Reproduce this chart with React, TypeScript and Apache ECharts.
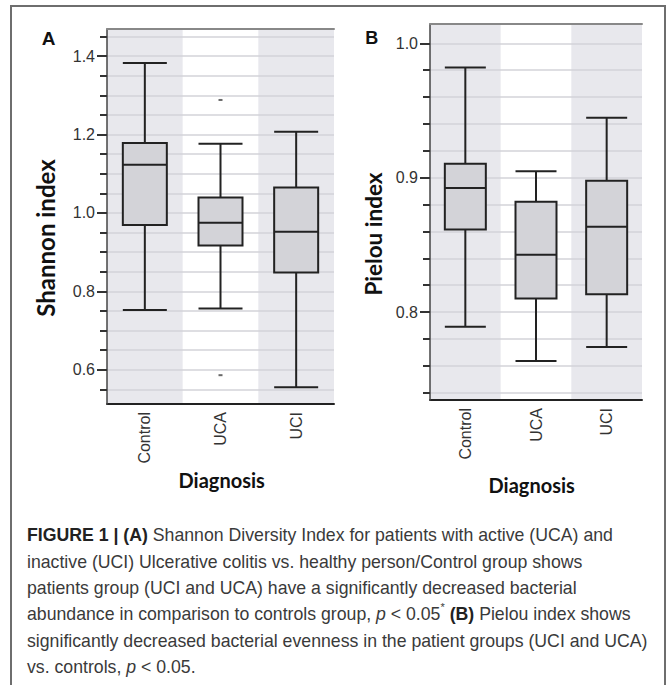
import React, { useEffect, useRef } from 'react';
import * as echarts from 'echarts';

// ---- data ----
const categories = ['Control', 'UCA', 'UCI'];
// [min, Q1, median, Q3, max]
const shannonBox = [
  [0.752, 0.969, 1.123, 1.178, 1.382],
  [0.756, 0.917, 0.975, 1.039, 1.176],
  [0.555, 0.848, 0.952, 1.065, 1.207],
];
const shannonOutliers = [
  ['UCA', 1.288],
  ['UCA', 0.586],
];
const pielouBox = [
  [0.789, 0.8615, 0.8923, 0.9104, 0.982],
  [0.7635, 0.81, 0.8427, 0.8821, 0.9047],
  [0.774, 0.8133, 0.8635, 0.8978, 0.9446],
];
const shannonRange = [0.5125, 1.469];
const pielouRange = [0.7345, 1.0144];
const shannonMinorTicks = [0.55, 0.6, 0.65, 0.7, 0.75, 0.8, 0.85, 0.9, 0.95, 1.0, 1.05, 1.1, 1.15, 1.2, 1.25, 1.3, 1.35, 1.4, 1.45];
const shannonMajorTicks = [0.6, 0.8, 1.0, 1.2, 1.4];
const pielouMinorTicks = [0.74, 0.76, 0.78, 0.8, 0.82, 0.84, 0.86, 0.88, 0.9, 0.92, 0.94, 0.96, 0.98, 1.0];
const pielouMajorTicks = [0.8, 0.9, 1.0];

const panelLetters = ['A', 'B'];
const yNames = ['Shannon index', 'Pielou index'];
const xName = 'Diagnosis';
const captionLines = [
  '{b|FIGURE 1 | (A)} Shannon Diversity Index for patients with active (UCA) and',
  'inactive (UCI) Ulcerative colitis vs. healthy person/Control group shows',
  'patients group (UCI and UCA) have a significantly decreased bacterial',
  'abundance in comparison to controls group, {i|p} < 0.05{sup|*} {b|(B)} Pielou index shows',
  'significantly decreased bacterial evenness in the patient groups (UCI and UCA)',
  'vs. controls, {i|p} < 0.05.',
];

const SANS = '"Liberation Sans", Arial, sans-serif';
const LABEL_FONT = 'Lato, "Open Sans", sans-serif';
const BAND = '#e8e8ed';
const GRIDLINE = '#d3d3d8';
const BOX_FILL = '#d3d3d8';
const DARK = '#222';
const CAPTION_SIZE = 17.7;

function yMinor(gridIndex: number, range: number[], ticks: number[]) {
  return {
    type: 'value',
    gridIndex,
    position: 'left',
    z: 1,
    min: range[0],
    max: range[1],
    axisLine: { show: true, onZero: false, lineStyle: { color: '#444', width: 1.5 } },
    axisTick: { show: true, customValues: ticks, length: 7, lineStyle: { color: '#333', width: 2 } },
    axisLabel: { show: false },
    splitLine: { show: true, lineStyle: { color: GRIDLINE, width: 1.5 } },
  };
}
function yMajor(gridIndex: number, range: number[], ticks: number[]) {
  return {
    type: 'value',
    gridIndex,
    position: 'left',
    z: 1,
    min: range[0],
    max: range[1],
    axisLine: { show: false, onZero: false },
    axisTick: { show: true, customValues: ticks, length: 10, lineStyle: { color: '#333', width: 2 } },
    axisLabel: {
      show: true,
      customValues: ticks,
      margin: 12,
      color: '#333',
      fontSize: 16,
      fontFamily: SANS,
      formatter: (v: number) => v.toFixed(1),
    },
    splitLine: { show: false },
  };
}
function xBottom(gridIndex: number) {
  return {
    type: 'category',
    gridIndex,
    data: categories,
    position: 'bottom',
    z: 0,
    boundaryGap: true,
    axisLine: { show: true, onZero: false, lineStyle: { color: DARK, width: 2 } },
    axisTick: { show: false },
    axisLabel: { rotate: 90, margin: 8, color: '#333', fontSize: 16, fontFamily: SANS },
    splitLine: { show: false },
    splitArea: { show: true, areaStyle: { color: [BAND, 'rgba(255,255,255,0)'] } },
  };
}
function xTop(gridIndex: number) {
  return {
    type: 'category',
    gridIndex,
    data: categories,
    position: 'top',
    z: 1,
    boundaryGap: true,
    axisLine: { show: true, onZero: false, lineStyle: { color: '#888', width: 2 } },
    axisTick: { show: false },
    axisLabel: { show: false },
    splitLine: { show: false },
    splitArea: { show: false },
  };
}

const boxStyle = { color: BOX_FILL, borderColor: DARK, borderWidth: 2 };

export default function App() {
  const ref = useRef<HTMLDivElement>(null);
  useEffect(() => {
    document.body.style.margin = '0';
    if (!ref.current) return;
    const chart = echarts.init(ref.current, null, { renderer: 'svg' });
    chart.setOption({
      animation: false,
      backgroundColor: '#ffffff',
      grid: [
        { left: 107, top: 29, width: 227, height: 375 },
        { left: 430, top: 24, width: 212, height: 376 },
      ],
      xAxis: [xBottom(0), xTop(0), xBottom(1), xTop(1)],
      yAxis: [
        yMinor(0, shannonRange, shannonMinorTicks),
        yMajor(0, shannonRange, shannonMajorTicks),
        yMinor(1, pielouRange, pielouMinorTicks),
        yMajor(1, pielouRange, pielouMajorTicks),
      ],
      series: [
        {
          type: 'boxplot',
          name: 'Shannon index',
          xAxisIndex: 0,
          yAxisIndex: 0,
          z: 3,
          data: shannonBox,
          boxWidth: [44, 44],
          itemStyle: boxStyle,
          silent: true,
        },
        {
          type: 'scatter',
          name: 'Shannon outliers',
          xAxisIndex: 0,
          yAxisIndex: 0,
          z: 3,
          data: shannonOutliers,
          symbol: 'rect',
          symbolSize: [4, 2],
          itemStyle: { color: '#444' },
          silent: true,
        },
        {
          type: 'boxplot',
          name: 'Pielou index',
          xAxisIndex: 2,
          yAxisIndex: 2,
          z: 3,
          data: pielouBox,
          boxWidth: [41, 41],
          itemStyle: boxStyle,
          silent: true,
        },
      ],
      graphic: [
        {
          type: 'rect',
          silent: true,
          shape: { x: 11, y: 6, width: 654, height: 720 },
          style: { fill: 'none', stroke: '#6e6e6e', lineWidth: 2 },
        },
        {
          type: 'text',
          x: 48.5,
          y: 38,
          style: { text: panelLetters[0], fontFamily: SANS, fontWeight: 'bold', fontSize: 19, fill: '#111', align: 'center', verticalAlign: 'middle' },
        },
        {
          type: 'text',
          x: 371.7,
          y: 37.5,
          style: { text: panelLetters[1], fontFamily: SANS, fontWeight: 'bold', fontSize: 18, fill: '#111', align: 'center', verticalAlign: 'middle' },
        },
        {
          type: 'text',
          x: 45,
          y: 238,
          rotation: Math.PI / 2,
          style: { text: yNames[0], fontFamily: LABEL_FONT, fontWeight: 'bold', fontSize: 24, fill: '#111', align: 'center', verticalAlign: 'middle' },
        },
        {
          type: 'text',
          x: 373,
          y: 234,
          rotation: Math.PI / 2,
          style: { text: yNames[1], fontFamily: LABEL_FONT, fontWeight: 'bold', fontSize: 22.5, fill: '#111', align: 'center', verticalAlign: 'middle' },
        },
        {
          type: 'text',
          x: 221.7,
          y: 480,
          style: { text: xName, fontFamily: LABEL_FONT, fontWeight: 'bold', fontSize: 20, fill: '#111', align: 'center', verticalAlign: 'middle' },
        },
        {
          type: 'text',
          x: 531.7,
          y: 485,
          style: { text: xName, fontFamily: LABEL_FONT, fontWeight: 'bold', fontSize: 20, fill: '#111', align: 'center', verticalAlign: 'middle' },
        },
        {
          type: 'text',
          x: 27,
          y: 522,
          style: {
            text: captionLines.join('\n'),
            fontFamily: SANS,
            fontSize: CAPTION_SIZE,
            lineHeight: 26.4,
            fill: '#3a3a3a',
            align: 'left',
            verticalAlign: 'top',
            rich: {
              b: { fontFamily: SANS, fontSize: CAPTION_SIZE, fontWeight: 'bold', lineHeight: 26.4, fill: '#222' },
              i: { fontFamily: SANS, fontSize: CAPTION_SIZE, fontStyle: 'italic', lineHeight: 26.4, fill: '#3a3a3a' },
              sup: { fontFamily: SANS, fontSize: 11, lineHeight: 16, verticalAlign: 'top', fill: '#3a3a3a' },
            },
          },
        },
      ],
    });
    return () => chart.dispose();
  }, []);
  return <div ref={ref} style={{ width: 667, height: 685 }} />;
}
